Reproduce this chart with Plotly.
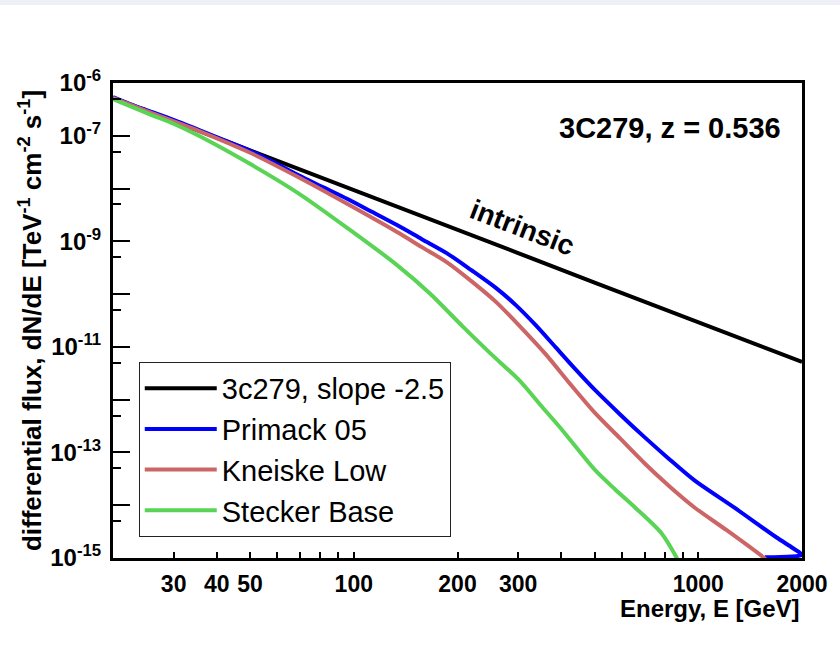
import math
import plotly.graph_objects as go

# ---------------- data ----------------
e_intr = [20, 30, 50, 70, 100, 150, 200, 300, 500, 700, 1000, 1500, 2000]
f_intr = [5.2e-7, 1.9e-7, 5.3e-8, 2.3e-8, 9.3e-9, 3.4e-9, 1.65e-9, 6.0e-10,
          1.65e-10, 7.2e-11, 2.9e-11, 1.05e-11, 5.2e-12]

e_prim = [20, 22.4, 25.5, 30.1, 35.6, 42.0, 49.5, 58.4, 68.9, 81.3, 95.9,
          113.2, 133.5, 157.6, 186, 219.4, 259, 295.4, 337.3, 385.0, 439.6,
          502, 592, 698, 823.9, 973, 1267, 1684, 1884, 2000, 1560]
f_prim = [5.43e-7, 4.00e-7, 2.94e-7, 1.99e-7, 1.285e-7, 8.30e-8, 5.37e-8,
          3.18e-8, 1.80e-8, 1.067e-8, 6.32e-9, 3.58e-9, 2.03e-9, 1.10e-9,
          5.99e-10, 2.85e-10, 1.30e-10, 6.19e-11, 2.58e-11, 9.89e-12,
          3.79e-12, 1.51e-12, 5.31e-13, 1.95e-13, 7.45e-14, 2.98e-14,
          9.16e-15, 2.47e-15, 1.53e-15, 1.15e-15, 1.03e-15]

e_kne = [20, 25.5, 35.6, 49.5, 68.9, 95.9, 133.5, 157.6, 186, 219.4, 259,
         305, 360.4, 425, 502, 592, 698, 823.9, 973, 1209, 1545, 1580]
f_kne = [5.2e-7, 2.82e-7, 1.23e-7, 4.92e-8, 1.65e-8, 5.08e-9, 1.50e-9,
         7.78e-10, 4.04e-10, 1.76e-10, 7.05e-11, 2.37e-11, 7.29e-12,
         1.97e-12, 5.54e-13, 1.86e-13, 6.25e-14, 2.29e-14, 9.16e-15,
         3.36e-15, 1.03e-15, 9.0e-16]

e_ste = [20, 25.5, 30.1, 35.6, 49.5, 68.9, 95.9, 133.5, 166, 208, 250.5,
         302, 348.7, 403, 502, 572.8, 654, 782, 870]
f_ste = [4.98e-7, 2.58e-7, 1.67e-7, 9.89e-8, 3.04e-8, 8.22e-9, 1.78e-9,
         3.55e-10, 1.04e-10, 2.37e-11, 7.29e-12, 2.34e-12, 7.86e-13,
         2.64e-13, 4.61e-14, 2.01e-14, 9.16e-15, 2.94e-15, 9.5e-16]

x_ticks = [30, 40, 50, 60, 70, 80, 90, 100, 200, 300, 400, 500, 600, 700,
           800, 900, 1000, 2000]
x_labels = ["30", "40", "50", "", "", "", "", "100", "200", "300", "", "",
            "", "", "", "", "1000", "2000"]
y_exps = [-6, -7, -8, -9, -10, -11, -12, -13, -14, -15]
y_labeled = [-6, -7, -9, -11, -13, -15]

FONT = "Liberation Sans, Arial, Helvetica, sans-serif"

fig = go.Figure()
series = [
    ("3c279, slope -2.5", e_intr, f_intr, "#000000", 4, "linear"),
    ("Primack 05", e_prim, f_prim, "#0000ff", 4, "spline"),
    ("Kneiske Low", e_kne, f_kne, "#cc6666", 4, "spline"),
    ("Stecker Base", e_ste, f_ste, "#59d454", 4, "spline"),
]
for name, xs, ys, col, w, shp in series:
    fig.add_trace(go.Scatter(x=xs, y=ys, mode="lines", name=name,
                             line=dict(color=col, width=w, shape=shp,
                                       smoothing=0.8),
                             cliponaxis=True))

y_tickvals = [10.0 ** k for k in y_exps]
y_ticktext = [("<b>10<sup>%d</sup></b>" % k) if k in y_labeled else ""
              for k in y_exps]
y_minor = [5 * 10.0 ** k for k in range(-7, -16, -1)]

fig.update_layout(
    width=840, height=654,
    margin=dict(l=113, r=31, t=83, b=96),
    paper_bgcolor="white", plot_bgcolor="white",
    font=dict(family=FONT, color="black"),
    showlegend=True,
    legend=dict(x=0.0374, y=0.413, xanchor="left", yanchor="top",
                bgcolor="white", bordercolor="#222", borderwidth=1,
                font=dict(size=29, family=FONT, color="black"),
                itemwidth=72, tracegroupgap=0),
    xaxis=dict(type="log", range=[math.log10(20), math.log10(2000)],
               showline=True, linecolor="black", linewidth=3, mirror=True,
               ticks="inside", ticklen=6, tickwidth=1.5, tickcolor="black",
               tickmode="array", tickvals=x_ticks,
               ticktext=["<b>%s</b>" % t if t else "" for t in x_labels],
               tickfont=dict(size=23, family=FONT, color="black"),
               ticklabelstandoff=3,
               showgrid=False, zeroline=False),
    xaxis2=dict(type="log", range=[math.log10(20), math.log10(2000)],
                overlaying="x", anchor="y", side="bottom",
                ticks="inside", ticklen=12, tickwidth=1.5, tickcolor="black",
                tickmode="array", tickvals=[100, 1000],
                showticklabels=False, showline=False, showgrid=False,
                zeroline=False),
    yaxis=dict(type="log", range=[-15, -6],
               showline=True, linecolor="black", linewidth=3, mirror=True,
               ticks="inside", ticklen=17, tickwidth=1.5, tickcolor="black",
               tickmode="array", tickvals=y_tickvals, ticktext=y_ticktext,
               tickfont=dict(size=24, family=FONT, color="black"),
               ticklabelstandoff=4,
               minor=dict(tickmode="array", tickvals=y_minor, ticks="inside",
                          ticklen=8, tickwidth=1.5, tickcolor="black",
                          showgrid=False),
               title=dict(text="<b>differential flux, dN/dE [TeV<sup>-1</sup> "
                               "cm<sup>-2</sup> s<sup>-1</sup>]</b>",
                          font=dict(size=26, family=FONT, color="black"),
                          standoff=2),
               showgrid=False, zeroline=False),
)

# thin grey band along the top of the page, as in the reference screenshot
fig.add_shape(type="rect", xref="paper", yref="paper",
              x0=-0.2, x1=1.1, y0=1.164, y1=1.2,
              fillcolor="#eef0f5", line=dict(width=0), layer="below")

fig.add_annotation(text="<b>Energy, E [GeV]</b>", xref="paper", yref="paper",
                   x=1.0, y=-0.106, xanchor="right", yanchor="middle",
                   showarrow=False, font=dict(size=24, family=FONT, color="black"))
fig.add_annotation(text="<b>3C279, z = 0.536</b>", xref="paper", yref="paper",
                   x=0.972, y=0.905, xanchor="right", yanchor="middle",
                   showarrow=False, font=dict(size=29, family=FONT, color="black"))
fig.add_annotation(text="<b>intrinsic</b>", xref="x", yref="y",
                   x=math.log10(308), y=-8.73, textangle=21,
                   showarrow=False, font=dict(size=28, family=FONT, color="black"))

fig.write_html("out.html")
